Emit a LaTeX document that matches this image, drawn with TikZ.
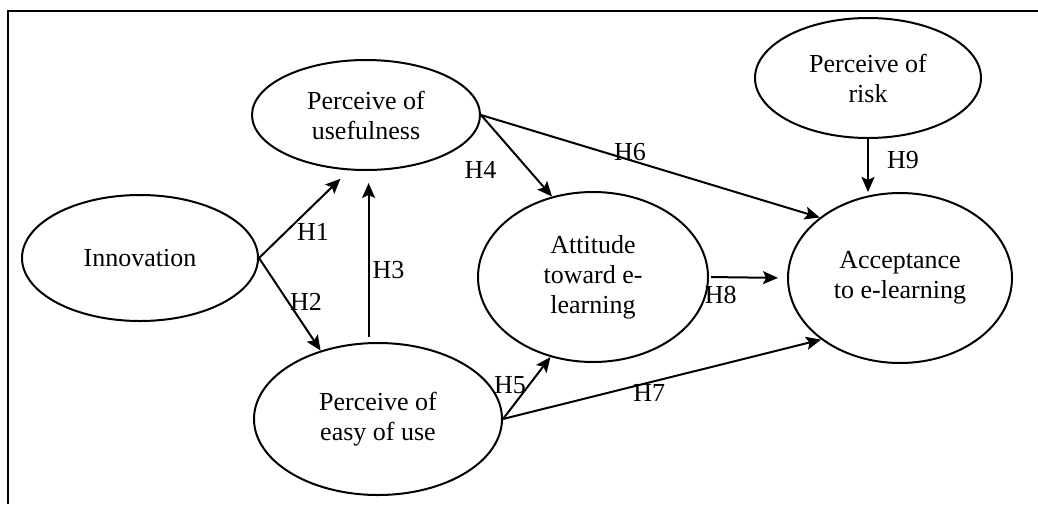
\documentclass[tikz,border=0pt]{standalone}
\usepackage{fontspec}
\setmainfont{Liberation Serif}
\usetikzlibrary{arrows.meta, shapes.geometric}

\begin{document}
\begin{tikzpicture}[x=0.5pt,y=-0.5pt,->,>={Stealth[length=7.5pt,width=6.5pt,inset=1.5pt]},
  line width=1pt,font=\fontsize{13}{15}\selectfont,
  factor/.style={ellipse,draw,inner sep=0pt,align=center}]
  \useasboundingbox (0,0) rectangle (1038,504);
  \draw[-] (1038,11) -- (8,11) -- (8,504);

  \node[factor,minimum width=118pt,minimum height=63pt] (inn) at (140,258) {Innovation};
  \node[factor,minimum width=114pt,minimum height=55pt] (use) at (366,115) {Perceive of\\usefulness};
  \node[factor,minimum width=124pt,minimum height=76pt] (easy) at (378,419) {Perceive of\\easy of use};
  \node[factor,minimum width=115pt,minimum height=85pt] (att) at (593,277) {Attitude\\toward e-\\learning};
  \node[factor,minimum width=113pt,minimum height=60pt] (risk) at (868,78) {Perceive of\\risk};
  \node[factor,minimum width=112pt,minimum height=85pt] (acc) at (900,278) {Acceptance\\to e-learning};

  \path
    (inn.east) edge[shorten >=6pt] node[pos=0.6,yshift=-13pt] {H1} (use.253)
    (inn.east) edge node[pos=0.47,xshift=9pt] {H2} (easy.130)
    (easy.97) edge[shorten >=6pt,shorten <=2.5pt] node[pos=0.42,xshift=10pt] {H3} (easy.97 |- use.south)
    (use.east) edge node[pos=0.67,xshift=-24pt] {H4} (att.117)
    (use.east) edge node[pos=0.44,yshift=4pt] {H6} (acc.143)
    (risk.south) edge node[pos=0.4,xshift=17.5pt] {H9} (risk.south |- acc.north)
    (att.east) edge[shorten >=4.5pt,shorten <=1pt] node[pos=0.15,yshift=-9pt] {H8} (acc.west)
    (easy.east) edge node[pos=0.55,xshift=-9.5pt] {H5} (att.242)
    (easy.east) edge node[pos=0.46,yshift=-5.3pt] {H7} (acc.218);
\end{tikzpicture}
\end{document}
